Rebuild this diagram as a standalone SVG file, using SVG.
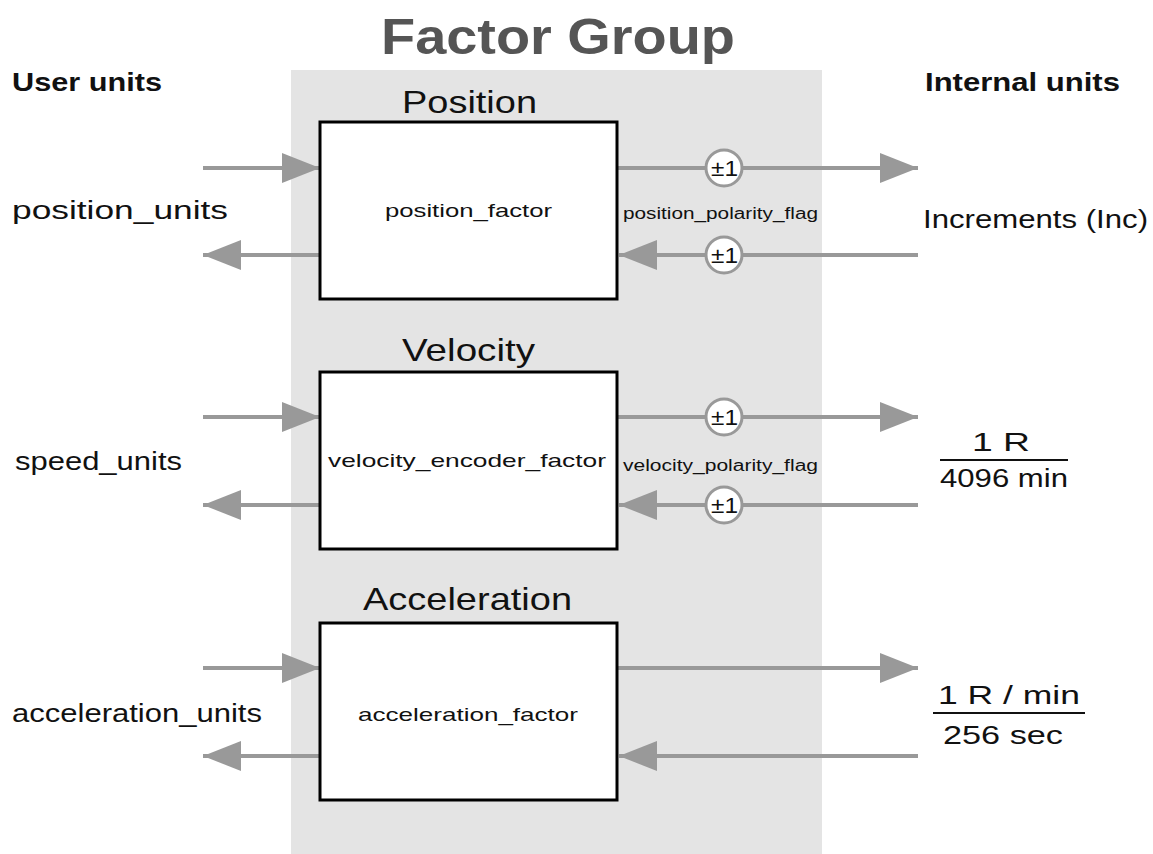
<svg xmlns="http://www.w3.org/2000/svg" width="1153" height="854" viewBox="0 0 1153 854">
<defs>
<marker id="ah" markerWidth="40" markerHeight="30" refX="38" refY="15" markerUnits="userSpaceOnUse" orient="auto"><path d="M0,0 L38,15 L0,30 Z" fill="#999"/></marker>
</defs>
<style>
text{font-family:"Liberation Sans",Arial,sans-serif;fill:#111}
.box{fill:#fff;stroke:#000;stroke-width:3}
.ln{stroke:#999;stroke-width:4;fill:none;marker-end:url(#ah)}
.c{fill:#fff;stroke:#999;stroke-width:3}
.ct{font-size:22px}
.bt{font-size:19px}
.tt{font-size:32px}
.lb{font-size:26px}
</style>
<rect width="1153" height="854" fill="#fff"/>
<rect x="291" y="70" width="531" height="784" fill="#e4e4e4"/>
<text x="381" y="54" font-size="50" font-weight="bold" style="fill:#555" textLength="354" lengthAdjust="spacingAndGlyphs">Factor Group</text>
<text x="12" y="91" font-size="25" font-weight="bold" textLength="150" lengthAdjust="spacingAndGlyphs">User units</text>
<text x="925" y="91" font-size="25" font-weight="bold" textLength="195" lengthAdjust="spacingAndGlyphs">Internal units</text>
<g id="connectors">
<line class="ln" x1="203" y1="168" x2="320" y2="168"/>
<line class="ln" x1="320" y1="255" x2="203" y2="255"/>
<line class="ln" x1="617" y1="168" x2="918" y2="168"/>
<line class="ln" x1="918" y1="255" x2="619" y2="255"/>
<line class="ln" x1="203" y1="417" x2="320" y2="417"/>
<line class="ln" x1="320" y1="505" x2="203" y2="505"/>
<line class="ln" x1="617" y1="417" x2="918" y2="417"/>
<line class="ln" x1="918" y1="505" x2="619" y2="505"/>
<line class="ln" x1="203" y1="668" x2="320" y2="668"/>
<line class="ln" x1="320" y1="756" x2="203" y2="756"/>
<line class="ln" x1="617" y1="668" x2="918" y2="668"/>
<line class="ln" x1="918" y1="756" x2="619" y2="756"/>
</g>
<g id="position">
<text class="tt" x="402" y="113" textLength="135" lengthAdjust="spacingAndGlyphs">Position</text>
<rect class="box" x="320" y="122" width="297" height="177"/>
<text class="bt" x="385" y="217" textLength="167" lengthAdjust="spacingAndGlyphs">position_factor</text>
</g>
<g id="velocity">
<text class="tt" x="402" y="361" textLength="133" lengthAdjust="spacingAndGlyphs">Velocity</text>
<rect class="box" x="320" y="372" width="297" height="177"/>
<text class="bt" x="328" y="467" textLength="278" lengthAdjust="spacingAndGlyphs">velocity_encoder_factor</text>
</g>
<g id="acceleration">
<text class="tt" x="363" y="610" textLength="209" lengthAdjust="spacingAndGlyphs">Acceleration</text>
<rect class="box" x="320" y="623" width="297" height="177"/>
<text class="bt" x="358" y="721" textLength="220" lengthAdjust="spacingAndGlyphs">acceleration_factor</text>
</g>
<g id="flags">
<circle class="c" cx="724" cy="168" r="18"/><text class="ct" x="711" y="176" textLength="27" lengthAdjust="spacingAndGlyphs">±1</text>
<circle class="c" cx="724" cy="255" r="18"/><text class="ct" x="711" y="263" textLength="27" lengthAdjust="spacingAndGlyphs">±1</text>
<text x="623" y="219" font-size="16" textLength="195" lengthAdjust="spacingAndGlyphs">position_polarity_flag</text>
<circle class="c" cx="724" cy="417" r="18"/><text class="ct" x="711" y="425" textLength="27" lengthAdjust="spacingAndGlyphs">±1</text>
<circle class="c" cx="724" cy="505" r="18"/><text class="ct" x="711" y="513" textLength="27" lengthAdjust="spacingAndGlyphs">±1</text>
<text x="623" y="471" font-size="16" textLength="195" lengthAdjust="spacingAndGlyphs">velocity_polarity_flag</text>
</g>
<g id="labels">
<text class="lb" x="12" y="219" textLength="216" lengthAdjust="spacingAndGlyphs">position_units</text>
<text class="lb" x="15" y="470" textLength="167" lengthAdjust="spacingAndGlyphs">speed_units</text>
<text class="lb" x="12" y="722" textLength="250" lengthAdjust="spacingAndGlyphs">acceleration_units</text>
<text class="lb" x="923" y="228" textLength="225" lengthAdjust="spacingAndGlyphs">Increments (Inc)</text>
<text class="lb" x="972" y="451" textLength="58" lengthAdjust="spacingAndGlyphs">1 R</text>
<line x1="940" y1="460" x2="1068" y2="460" stroke="#111" stroke-width="2"/>
<text class="lb" x="940" y="487" textLength="128" lengthAdjust="spacingAndGlyphs">4096 min</text>
<text class="lb" x="938" y="704" textLength="142" lengthAdjust="spacingAndGlyphs">1 R / min</text>
<line x1="933" y1="713" x2="1085" y2="713" stroke="#111" stroke-width="2"/>
<text class="lb" x="943" y="744" textLength="120" lengthAdjust="spacingAndGlyphs">256 sec</text>
</g>
</svg>
